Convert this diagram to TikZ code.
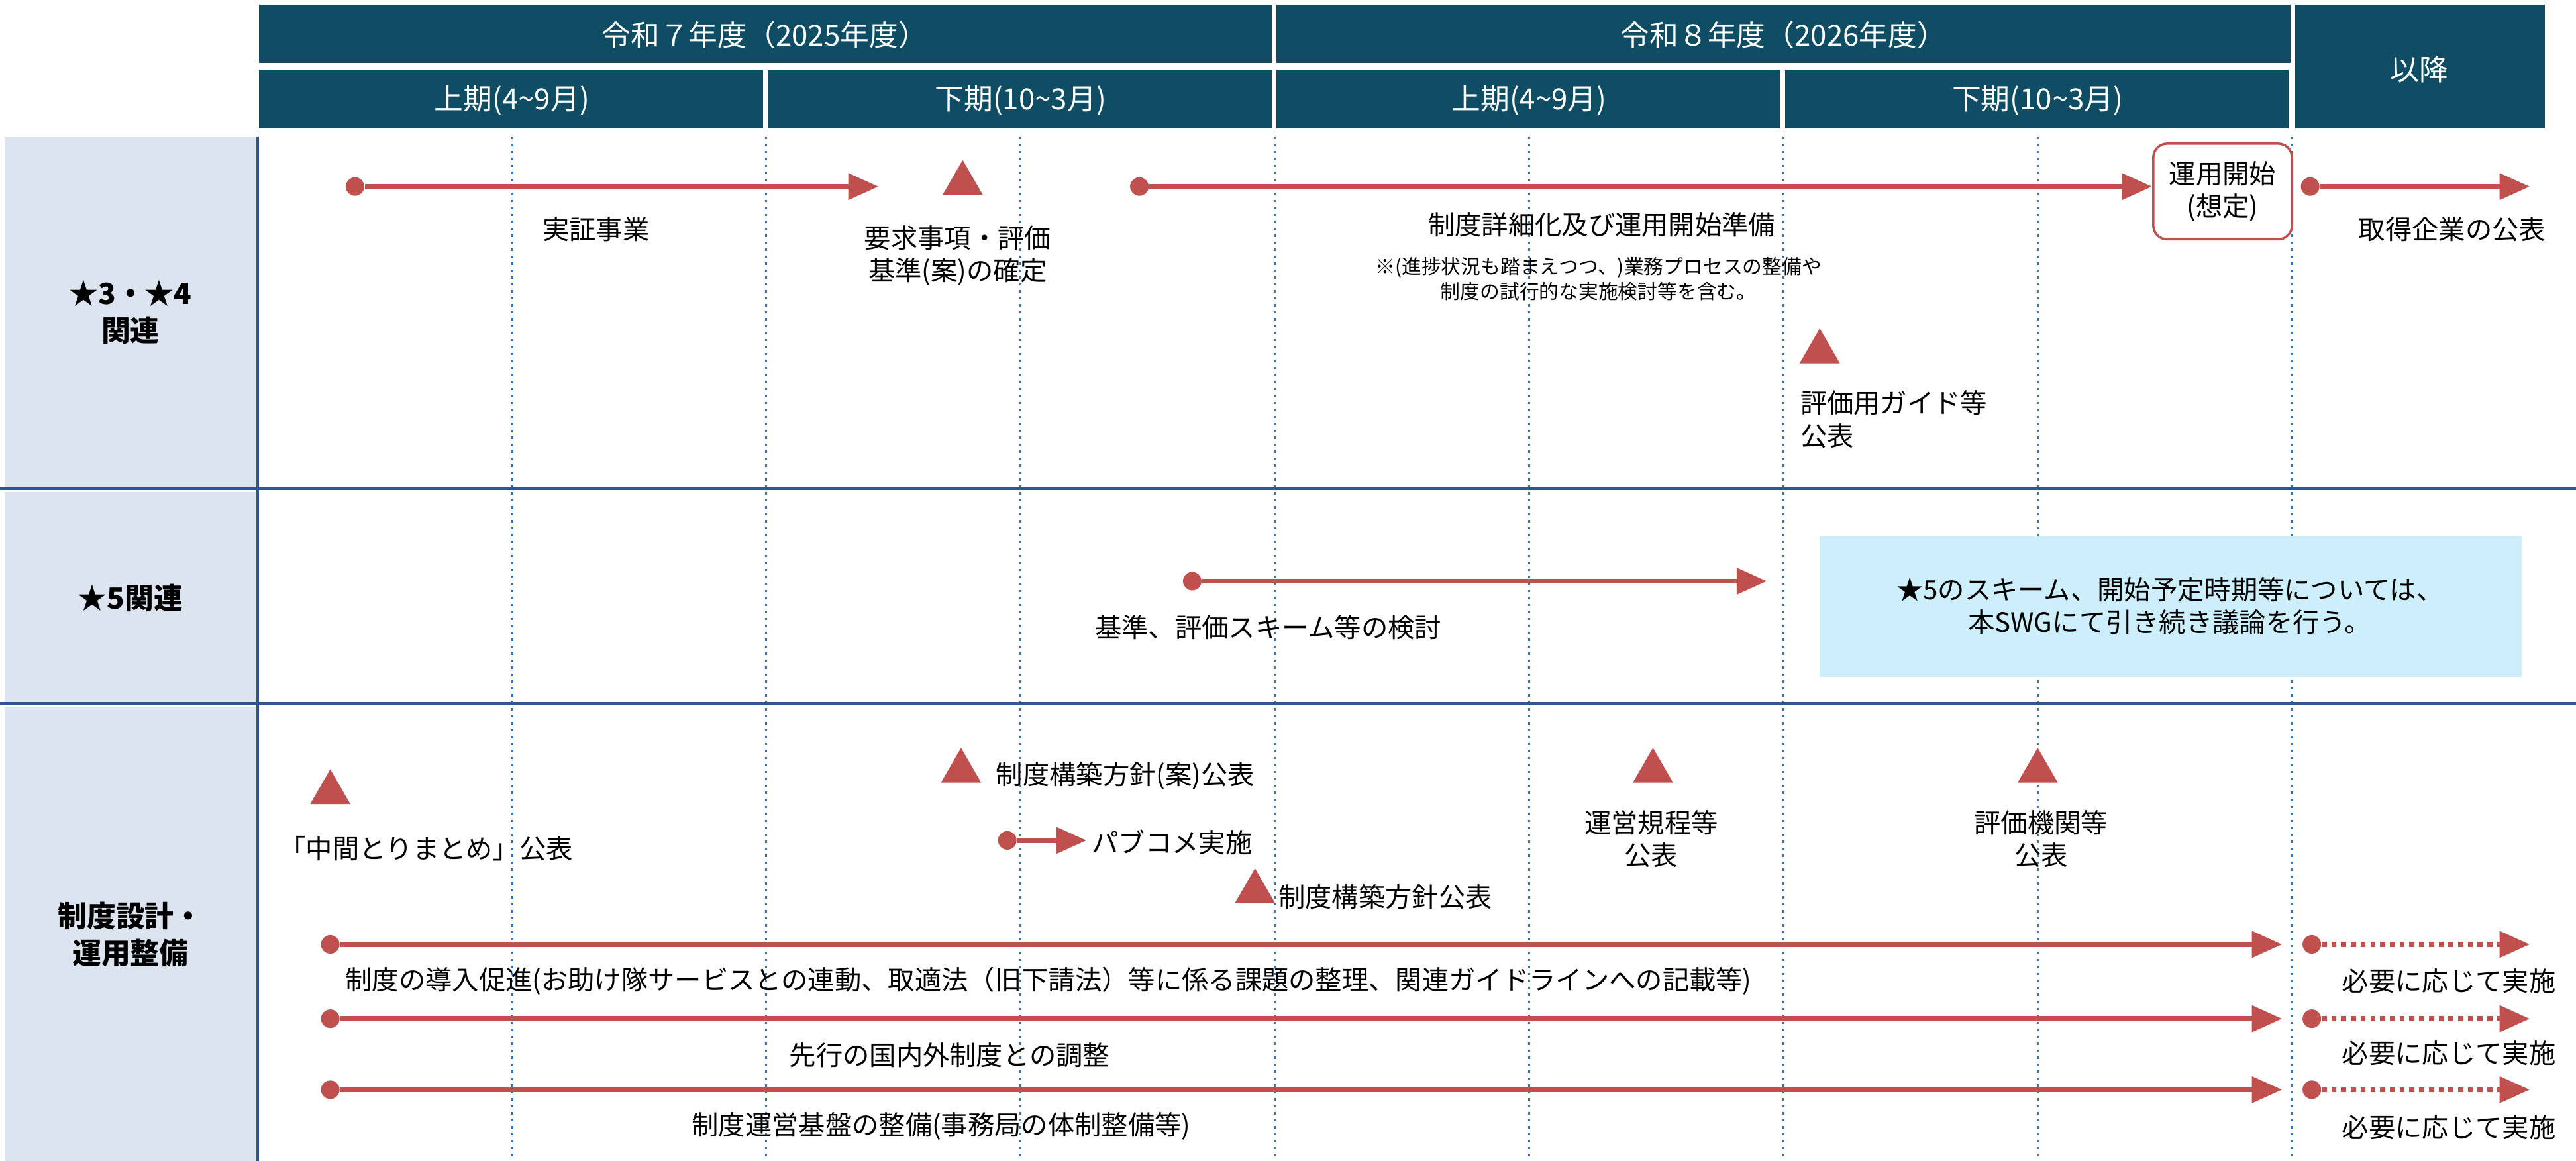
\documentclass[tikz,border=0pt]{standalone}
\usepackage{fontspec}
\setmainfont{Noto Sans CJK JP}
\usetikzlibrary{arrows.meta,shapes.geometric}
\definecolor{hdr}{HTML}{0E4D64}
\definecolor{lab}{HTML}{DCE4EF}
\definecolor{rd}{HTML}{C0504D}
\definecolor{ln}{HTML}{2F5597}
\definecolor{dt}{HTML}{2E75B6}
\definecolor{note}{HTML}{CDEFFB}
\tikzset{
 hbox/.style={text=white,font=\fontsize{12.5}{15}\selectfont},
 txt/.style={font=\fontsize{11.5}{14}\selectfont,align=center,inner sep=0pt},
 sm/.style={font=\fontsize{8.5}{11}\selectfont,align=center,inner sep=0pt},
 labt/.style={font=\bfseries\fontsize{12.5}{16}\selectfont,align=center},
 arr/.style={draw=rd,line width=2.2pt,-{Triangle[length=13pt,width=11pt]}},
 darr/.style={draw=rd,line width=2.2pt,dotted,-{Triangle[length=13pt,width=11pt]}},
 dotn/.style={circle,fill=rd,inner sep=0pt,minimum size=8pt},
 tri/.style={regular polygon,regular polygon sides=3,fill=rd,inner sep=0pt,minimum size=20pt},
}
\begin{document}
\begin{tikzpicture}[x=0.025cm,y=-0.025cm]
\useasboundingbox (0,0) rectangle (1560,703);
% header
\fill[hdr] (157,3) rectangle (770,38);
\fill[hdr] (773,3) rectangle (1387,38);
\fill[hdr] (1390,3) rectangle (1541,78);
\fill[hdr] (157,42) rectangle (462,78);
\fill[hdr] (465,42) rectangle (770,78);
\fill[hdr] (773,42) rectangle (1078,78);
\fill[hdr] (1081,42) rectangle (1386,78);
\node[hbox] (h1) at (463,21) {令和７年度（2025年度）};
\node[hbox] (h2) at (1080,21) {令和８年度（2026年度）};
\node[hbox] (h3) at (1465,42) {以降};
\node[hbox] (h4) at (310,61) {上期(4\textasciitilde9月)};
\node[hbox] (h5) at (618,61) {下期(10\textasciitilde3月)};
\node[hbox] (h6) at (926,61) {上期(4\textasciitilde9月)};
\node[hbox] (h7) at (1234,61) {下期(10\textasciitilde3月)};
% label column
\fill[lab] (3,83) rectangle (155,295);
\fill[lab] (3,298) rectangle (155,425);
\fill[lab] (3,428) rectangle (155,703);
\node[labt] (l1) at (79,189) {★3・★4\\関連};
\node[labt] (l2) at (79,362) {★5関連};
\node[labt] (l3) at (79,566) {制度設計・\\運用整備};
% dotted lines
\foreach \x in {310,464,618,772,926,1080,1234,1388}
  \draw[dt,dotted,line width=1pt] (\x,83) -- (\x,703);
\draw[ln,line width=1.2pt] (156,83) -- (156,703);
\foreach \y in {296,426,704}
  \draw[ln,line width=1.2pt] (0,\y) -- (1560,\y);
% row 1
\node[dotn] (a1) at (215,113) {}; \coordinate (a1e) at (532,113);
\draw[arr] (a1) -- (a1e);
\node[txt] (t1) at (361,139) {実証事業};
\node[tri] (tr1) at (583,111) {};
\node[txt] (t2) at (580,155) {要求事項・評価\\基準(案)の確定};
\node[dotn] (a2) at (690,113) {};
\node[draw=rd,fill=white,line width=1pt,rounded corners=6pt,minimum width=2.1cm,minimum height=1.45cm,txt,inner sep=0pt] (op) at (1346,116) {運用開始\\(想定)};
\draw[arr] (a2) -- (a2 -| op.west);
\node[dotn] (a3) at (1399,113) {}; \coordinate (a3e) at (1532,113);
\draw[arr] (a3) -- (a3e);
\node[txt] (t3) at (1485,139) {取得企業の公表};
\node[txt] (t4) at (970,136) {制度詳細化及び運用開始準備};
\node[sm] (t5) at (968,169) {※(進捗状況も踏まえつつ、)業務プロセスの整備や\\制度の試行的な実施検討等を含む。};
\node[tri] (tr2) at (1102,213) {};
\node[txt,align=left,anchor=west] (t6) at (1090,254) {評価用ガイド等\\公表};
% row 2
\node[dotn] (b1) at (722,352) {}; \coordinate (b1e) at (1070,352);
\draw[arr] (b1) -- (b1e);
\node[txt] (t7) at (768,380) {基準、評価スキーム等の検討};
\fill[note] (1102,325) rectangle (1527,410);
\node[txt] (t8) at (1314,367) {★5のスキーム、開始予定時期等については、\\本SWGにて引き続き議論を行う。};
% row 3
\node[tri] (tr3) at (200,480) {};
\node[txt] (t9) at (258,514) {「中間とりまとめ」公表};
\node[tri] (tr4) at (582,467) {};
\node[txt,anchor=west] (t10) at (603,470) {制度構築方針(案)公表};
\node[dotn] (c1) at (610,509) {}; \coordinate (c1e) at (658,509);
\draw[arr] (c1) -- (c1e);
\node[txt,anchor=west] (t11) at (661,510) {パブコメ実施};
\node[tri] (tr5) at (760,540) {};
\node[txt,anchor=west] (t12) at (774,543) {制度構築方針公表};
\node[tri] (tr6) at (1001,467) {};
\node[txt] (t13) at (1000,508) {運営規程等\\公表};
\node[tri] (tr7) at (1234,467) {};
\node[txt] (t14) at (1236,508) {評価機関等\\公表};
\foreach \y/\n in {572/p,617/q,660/r}{
  \node[dotn] (\n s) at (200,\y) {}; \coordinate (\n e) at (1382,\y);
  \draw[arr] (\n s) -- (\n e);
  \node[dotn] (\n d) at (1400,\y) {}; \coordinate (\n f) at (1532,\y);
  \draw[darr] (\n d) -- (\n f);
}
\node[txt] (u1) at (635,594) {制度の導入促進(お助け隊サービスとの連動、取適法（旧下請法）等に係る課題の整理、関連ガイドラインへの記載等)};
\node[txt] (u2) at (575,639) {先行の国内外制度との調整};
\node[txt] (u3) at (570,682) {制度運営基盤の整備(事務局の体制整備等)};
\node[txt] (v1) at (1483,594) {必要に応じて実施};
\node[txt] (v2) at (1483,638) {必要に応じて実施};
\node[txt] (v3) at (1483,683) {必要に応じて実施};
\end{tikzpicture}
\end{document}
